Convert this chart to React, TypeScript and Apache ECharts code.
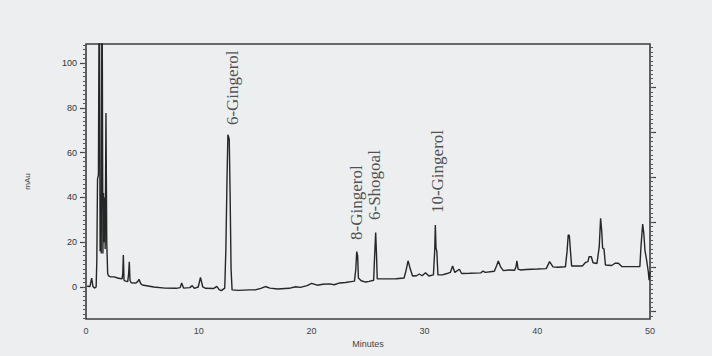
import React, { useEffect, useRef } from "react";
import * as echarts from "echarts";

// Chromatogram trace: [retention time (min), absorbance (mAU)]
const chromatogram: [number, number][] = [
  [0.1, 0.3], [0.35, 0.2], [0.5, 4], [0.62, 0.2], [0.75, -0.5], [0.9, 0], [0.96, 12], [1.02, 48],
  [1.1, 50], [1.18, 150], [1.25, 16], [1.3, 42], [1.35, 15], [1.42, 150], [1.5, 15],
  [1.55, 42], [1.6, 20], [1.65, 40], [1.7, 17], [1.77, 77.7], [1.84, 20], [1.92, 6],
  [2.0, 5], [2.2, 4.5], [2.5, 4.5], [2.8, 4.0], [3.0, 3.8], [3.2, 3.6], [3.26, 6],
  [3.31, 14.3], [3.37, 3], [3.5, 2.6], [3.7, 2.4], [3.78, 6], [3.84, 11.3], [3.9, 3],
  [4.0, 1.9], [4.4, 1.7], [4.6, 2.5], [4.7, 3.4], [4.85, 1.5], [5.0, 0.9], [6.0, 0],
  [7.0, -0.5], [8.0, -0.6], [8.35, -0.3], [8.48, 1.8], [8.65, -0.5], [9.2, -0.3],
  [9.42, 0.6], [9.6, -0.6], [9.95, 0], [10.15, 4.3], [10.35, 0], [10.6, -0.6],
  [11.3, -0.7], [11.6, 0.3], [11.8, -1.2], [12.0, -1.6], [12.3, -0.5], [12.4, 17],
  [12.5, 48], [12.58, 68], [12.7, 66], [12.78, 40], [12.86, 8], [12.95, -1.3],
  [13.5, -1.5], [14.5, -1.3], [15.0, -1.3], [15.5, -0.6], [15.9, 0.2], [16.3, -0.5],
  [17.0, -0.9], [18.0, -0.6], [18.6, 0.1], [19.0, -0.2], [19.6, 0.6], [20.0, 1.6],
  [20.5, 0.8], [21.0, 1.2], [21.6, 1.4], [22.0, 1.0], [22.5, 1.8], [23.0, 2.0],
  [23.5, 2.4], [23.8, 2.6], [23.92, 8], [24.0, 15.8], [24.08, 14], [24.15, 4],
  [24.4, 2.8], [24.8, 2.2], [25.1, 2.5], [25.5, 3], [25.58, 13], [25.68, 24.3],
  [25.75, 15], [25.82, 3.6], [26.5, 3.6], [27.5, 3.7], [28.2, 4], [28.4, 8],
  [28.55, 11.7], [28.75, 8], [28.95, 4.9], [29.3, 5.0], [29.55, 5.8], [29.8, 5.0],
  [30.1, 6.4], [30.4, 4.9], [30.8, 5.4], [30.92, 17], [30.97, 27.7], [31.03, 17.3],
  [31.1, 16], [31.2, 5.4], [31.6, 5.4], [32.0, 6], [32.3, 6.5], [32.5, 9.4],
  [32.7, 6.5], [33.1, 7.9], [33.3, 6], [34.0, 6.1], [35.0, 6.3], [35.2, 7.1],
  [35.4, 6.5], [36.2, 7], [36.4, 9.5], [36.55, 11.6], [36.75, 9], [37.0, 7.3],
  [37.5, 7.6], [38.0, 7.5], [38.12, 9], [38.2, 11.7], [38.3, 8], [38.5, 7.6],
  [39.0, 7.8], [40.0, 8], [40.8, 8.2], [41.1, 11.3], [41.4, 9], [41.8, 8.8],
  [42.5, 9], [42.65, 16], [42.75, 23.2], [42.85, 23], [42.95, 16], [43.05, 9.4],
  [44.0, 9.4], [44.3, 11], [44.5, 11.3], [44.6, 13.5], [44.8, 13.5], [44.95, 10.8],
  [45.3, 10.5], [45.5, 18], [45.62, 30.7], [45.72, 25], [45.8, 17.3], [45.92, 17],
  [46.05, 9.8], [46.6, 9.6], [46.9, 10.6], [47.2, 10.6], [47.5, 9.1], [48.5, 9.1],
  [49.1, 9.1], [49.2, 18], [49.35, 28.1], [49.45, 24], [49.55, 16.5], [49.7, 12],
  [49.85, 6.8], [49.92, 3], [50.0, 6.8],
];

// Peak labels
const peakNames = ["6-Gingerol", "8-Gingerol", "6-Shogoal", "10-Gingerol"];
const peakLabelTimes = [13.03, 24.02, 25.62, 31.12];
const peakLabelLevels = [72.3, 21, 29.9, 33];

// Axes
const xTicks = [0, 10, 20, 30, 40, 50];
const yLabelValues = [0, 20, 40, 60, 80, 100];
const rightMajorValues = [-11, 9, 29, 49, 69, 89];
const Y_MIN = -14.3;
const Y_MAX = 108.5;

function stepValues(start: number, end: number, step: number): number[] {
  const out: number[] = [];
  for (let v = start; v <= end + 1e-9; v += step) out.push(Math.round(v * 100) / 100);
  return out;
}

export default function App() {
  const ref = useRef<HTMLDivElement>(null);

  useEffect(() => {
    if (!ref.current) return;
    const chart = echarts.init(ref.current, undefined, { renderer: "svg" });
    const ink = "#262626";
    const baseY = {
      type: "value" as const,
      min: Y_MIN,
      max: Y_MAX,
      splitLine: { show: false },
      axisLine: { show: false },
    };
    chart.setOption({
      animation: false,
      backgroundColor: "#eceef0",
      grid: {
        left: 86,
        right: 62,
        top: 44,
        bottom: 37,
        show: true,
        borderColor: "#3c3c3c",
        borderWidth: 1.6,
        backgroundColor: "transparent",
      },
      xAxis: {
        type: "value",
        min: 0,
        max: 50,
        axisLabel: {
          customValues: xTicks,
          color: "#444",
          fontSize: 9,
          fontFamily: "Liberation Sans",
          margin: 7,
        },
        axisTick: { show: false },
        axisLine: { show: false },
        splitLine: { show: false },
        name: "Minutes",
        nameLocation: "middle",
        nameGap: 18,
        nameTextStyle: { color: "#444", fontSize: 9, fontFamily: "Liberation Sans" },
      },
      yAxis: [
        {
          ...baseY,
          position: "left",
          axisLabel: {
            customValues: yLabelValues,
            color: "#333",
            fontSize: 9,
            fontFamily: "Liberation Sans",
            margin: 9,
          },
          axisTick: { customValues: yLabelValues, length: 6, lineStyle: { color: "#444", width: 1.2 } },
          name: "mAu",
          nameLocation: "middle",
          nameGap: 55,
          nameTextStyle: { color: "#444", fontSize: 8, fontFamily: "Liberation Sans" },
        },
        {
          ...baseY,
          position: "left",
          axisLabel: { show: false },
          axisTick: { customValues: stepValues(-14, 108, 2), length: 3, lineStyle: { color: "#555", width: 1 } },
        },
        {
          ...baseY,
          position: "right",
          axisLabel: { show: false },
          axisTick: { customValues: rightMajorValues, length: 6, lineStyle: { color: "#444", width: 1.2 } },
        },
        {
          ...baseY,
          position: "right",
          axisLabel: { show: false },
          axisTick: { customValues: stepValues(-13, 107, 2), length: 3, lineStyle: { color: "#555", width: 1 } },
        },
      ],
      series: [
        {
          type: "line",
          data: chromatogram,
          yAxisIndex: 0,
          showSymbol: false,
          symbol: "none",
          clip: true,
          lineStyle: { color: "#262626", width: 1.4 },
          silent: true,
        },
        {
          type: "scatter",
          yAxisIndex: 0,
          symbolSize: 0,
          silent: true,
          data: peakNames.map((n, i) => ({ name: n, value: [peakLabelTimes[i], peakLabelLevels[i]] })),
          label: {
            show: true,
            position: "inside",
            formatter: (p: any) => p.name,
            rotate: 90,
            align: "left",
            verticalAlign: "middle",
            color: ink,
            fontSize: 17,
            fontFamily: "Liberation Serif",
          },
        },
      ],
    });
    return () => chart.dispose();
  }, []);

  return (
    <div style={{ position: "fixed", left: 0, top: 0, width: 712, height: 356, background: "#eceef0" }}>
      <div ref={ref} style={{ width: 712, height: 356 }} />
    </div>
  );
}
